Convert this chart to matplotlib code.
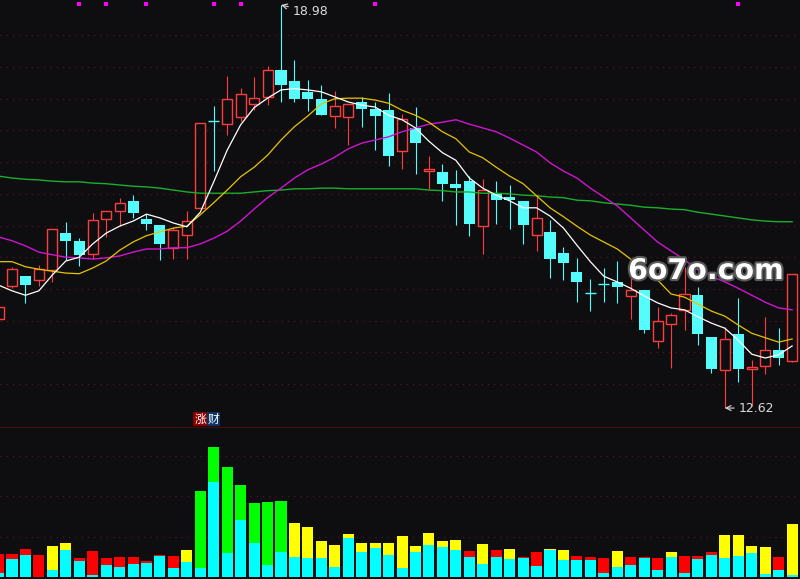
import numpy as np
import matplotlib.pyplot as plt
import matplotlib.patheffects as pe

# daily OHLC (price units)
opens = [14.03, 14.55, 14.70, 14.64, 14.80, 15.38, 15.26, 15.05, 15.60, 15.73,
         15.89, 15.60, 15.51, 15.15, 15.35, 15.78, 17.15, 17.10, 17.21, 17.42,
         17.53, 17.95, 17.78, 17.61, 17.50, 17.23, 17.21, 17.45, 17.34, 17.32,
         16.68, 17.04, 16.36, 16.35, 16.16, 16.20, 15.49, 16.00, 15.95, 15.89,
         15.35, 15.40, 15.07, 14.77, 14.44, 14.57, 14.61, 14.39, 14.48, 13.68,
         13.95, 14.17, 14.40, 13.74, 13.22, 13.79, 13.24, 13.28, 13.54, 13.36]
closes = [14.22, 14.81, 14.56, 14.81, 15.45, 15.26, 15.04, 15.59, 15.73, 15.86,
          15.70, 15.52, 15.21, 15.43, 15.57, 17.12, 17.14, 17.50, 17.58, 17.51,
          17.95, 17.72, 17.50, 17.50, 17.24, 17.39, 17.42, 17.34, 17.23, 16.60,
          17.18, 16.80, 16.39, 16.16, 16.09, 15.52, 16.06, 15.90, 15.90, 15.51,
          15.62, 14.97, 14.91, 14.61, 14.43, 14.56, 14.53, 14.48, 13.85, 13.99,
          14.09, 14.42, 13.79, 13.24, 13.71, 13.24, 13.27, 13.54, 13.41, 14.74]
highs = [14.22, 14.85, 14.70, 14.88, 15.45, 15.56, 15.30, 15.70, 15.73, 15.94,
         15.98, 15.68, 15.51, 15.48, 15.73, 17.12, 17.39, 17.86, 17.67, 17.84,
         18.02, 18.98, 18.11, 17.80, 17.72, 17.62, 17.42, 17.53, 17.45, 17.59,
         17.26, 17.37, 16.60, 16.47, 16.38, 16.28, 16.23, 16.20, 16.14, 15.89,
         15.98, 15.59, 15.16, 14.99, 14.66, 14.83, 14.94, 14.78, 14.48, 14.22,
         14.12, 14.85, 14.53, 13.74, 13.90, 14.36, 13.38, 14.06, 13.88, 14.74]
lows = [14.03, 14.51, 14.28, 14.55, 14.61, 14.96, 14.86, 14.97, 15.32, 15.49,
        15.62, 15.43, 14.96, 14.97, 14.97, 15.78, 16.36, 16.93, 17.15, 17.32,
        17.40, 17.45, 17.45, 17.31, 17.24, 17.04, 16.77, 17.06, 16.69, 16.44,
        16.39, 16.31, 16.08, 15.89, 15.51, 15.34, 15.05, 15.52, 15.45, 15.21,
        15.10, 14.67, 14.64, 14.29, 14.15, 14.29, 14.28, 14.03, 13.80, 13.57,
        13.25, 13.85, 13.62, 13.17, 12.62, 13.03, 12.65, 13.16, 13.30, 13.35]

# moving averages
ma5 = [14.56, 14.47, 14.40, 14.47, 14.72, 14.94, 15.00, 15.21, 15.38, 15.49,
       15.57, 15.68, 15.62, 15.54, 15.48, 15.71, 16.19, 16.69, 17.09, 17.36,
       17.51, 17.64, 17.66, 17.64, 17.61, 17.53, 17.45, 17.40, 17.37, 17.24,
       17.17, 17.04, 16.83, 16.65, 16.53, 16.25, 16.09, 15.98, 15.89, 15.78,
       15.78, 15.65, 15.46, 15.19, 14.93, 14.70, 14.61, 14.51, 14.39, 14.28,
       14.20, 14.17, 14.06, 13.96, 13.88, 13.69, 13.47, 13.41, 13.46, 13.60]
ma10 = [14.93, 14.93, 14.85, 14.81, 14.78, 14.75, 14.74, 14.83, 14.94, 15.11,
        15.24, 15.34, 15.40, 15.46, 15.49, 15.67, 15.86, 16.06, 16.27, 16.42,
        16.61, 16.85, 17.06, 17.23, 17.42, 17.50, 17.51, 17.51, 17.48, 17.43,
        17.32, 17.24, 17.13, 16.98, 16.87, 16.66, 16.57, 16.42, 16.28, 16.16,
        15.97, 15.78, 15.64, 15.49, 15.35, 15.24, 15.13, 14.97, 14.83, 14.64,
        14.42, 14.37, 14.26, 14.15, 14.07, 13.93, 13.80, 13.73, 13.66, 13.71]
ma20 = [15.32, 15.26, 15.18, 15.08, 15.04, 15.00, 14.99, 14.97, 14.99, 15.02,
        15.08, 15.13, 15.13, 15.15, 15.15, 15.21, 15.30, 15.41, 15.57, 15.76,
        15.94, 16.09, 16.25, 16.38, 16.47, 16.58, 16.71, 16.80, 16.85, 16.90,
        16.98, 17.04, 17.10, 17.13, 17.17, 17.10, 17.04, 16.98, 16.88, 16.77,
        16.66, 16.49, 16.36, 16.25, 16.09, 15.95, 15.81, 15.62, 15.43, 15.24,
        15.10, 14.96, 14.80, 14.70, 14.61, 14.51, 14.40, 14.29, 14.20, 14.17]
ma60 = [16.28, 16.25, 16.23, 16.22, 16.20, 16.19, 16.19, 16.17, 16.16, 16.14,
        16.12, 16.11, 16.09, 16.06, 16.03, 16.01, 16.01, 16.01, 16.01, 16.03,
        16.05, 16.06, 16.08, 16.08, 16.09, 16.09, 16.08, 16.08, 16.08, 16.08,
        16.08, 16.08, 16.06, 16.05, 16.03, 16.03, 16.01, 16.01, 16.00, 15.98,
        15.97, 15.95, 15.94, 15.90, 15.89, 15.86, 15.84, 15.82, 15.79, 15.78,
        15.76, 15.75, 15.71, 15.68, 15.65, 15.62, 15.59, 15.57, 15.56, 15.56]

# volume: total bar, cyan lower part, colour of the upper part
vol_total = [0.57, 0.57, 0.69, 0.54, 0.77, 0.84, 0.47, 0.64, 0.47, 0.49,
             0.49, 0.40, 0.54, 0.52, 0.67, 2.12, 3.21, 2.72, 2.27, 1.83,
             1.85, 1.88, 1.33, 1.23, 0.89, 0.79, 1.06, 0.84, 0.84, 0.84,
             1.01, 0.77, 1.09, 0.89, 0.91, 0.64, 0.81, 0.67, 0.69, 0.49,
             0.62, 0.69, 0.67, 0.52, 0.49, 0.47, 0.64, 0.49, 0.49, 0.47,
             0.62, 0.52, 0.52, 0.62, 1.04, 1.04, 0.77, 0.74, 0.49, 1.31]
vol_cyan = [0.10, 0.44, 0.54, 0.00, 0.17, 0.67, 0.40, 0.05, 0.30, 0.25,
            0.32, 0.35, 0.52, 0.22, 0.37, 0.22, 2.35, 0.59, 1.41, 0.84,
            0.30, 0.62, 0.49, 0.47, 0.47, 0.25, 0.96, 0.62, 0.72, 0.54,
            0.22, 0.62, 0.79, 0.74, 0.67, 0.49, 0.32, 0.49, 0.44, 0.47,
            0.27, 0.67, 0.42, 0.42, 0.42, 0.10, 0.25, 0.30, 0.47, 0.17,
            0.49, 0.10, 0.44, 0.54, 0.47, 0.52, 0.59, 0.07, 0.17, 0.05]
vol_top = list("rrrryyrrrrrrrry" "ggggggg" "yyyyyyyyyyyyy" "ryryrr"
               "yyrrr" "yrrr" "yrrr" "yyyy" "ry")

event_days = [6, 8, 11, 16, 18, 28, 55]
price_grid = [13.0, 13.5, 14.0, 14.5, 15.0, 15.5, 16.0, 16.5, 17.0, 17.5, 18.0, 18.5]
vol_grid = [1, 2, 3]

BG = "#0e0e11"
UP = "#ff3c3c"
DOWN = "#54fcfc"
GRID = "#6a1616"
top_colors = {"r": "#ff0000", "y": "#ffff00", "g": "#00ff00"}

W, H = 800, 579
split = 427  # pixel row of the panel divider
fig = plt.figure(figsize=(W / 100, H / 100), dpi=100, facecolor=BG)
ax = fig.add_axes([0, (H - split) / H, 1, split / H])
axv = fig.add_axes([0, 0, 1, (H - split) / H])
for a in (ax, axv):
    a.set_facecolor(BG)
    a.set_xticks([])
    a.set_yticks([])
    for s in a.spines.values():
        s.set_visible(False)

x = np.arange(len(closes))
o = np.array(opens)
c = np.array(closes)
h = np.array(highs)
l = np.array(lows)
xlim = (0.108, 59.587)
bw = 0.82

ax.hlines(price_grid, *xlim, colors=GRID, lw=0.75, linestyles=(0, (1, 5)), zorder=1)

doji = np.abs(c - o) < 0.015
up = (c > o) & ~doji
dn = (c <= o) & ~doji

# wicks
ax.vlines(x[up], c[up], h[up], color=UP, lw=0.8, zorder=2)
ax.vlines(x[up], l[up], o[up], color=UP, lw=0.8, zorder=2)
ax.vlines(x[~up], l[~up], h[~up], color=DOWN, lw=0.8, zorder=2)
# bodies
ax.bar(x[up], c[up] - o[up], bottom=o[up], width=bw - 0.07,
       facecolor=BG, edgecolor=UP, lw=1.0, zorder=3)
ax.bar(x[dn], o[dn] - c[dn], bottom=c[dn], width=bw,
       color=DOWN, lw=0, zorder=3)
ax.hlines(o[doji], x[doji] - bw / 2, x[doji] + bw / 2, color=DOWN, lw=1.0, zorder=3)

ax.plot(x, ma60, color="#18b02a", lw=1.0, zorder=4)
ax.plot(x, ma20, color="#d014d0", lw=1.0, zorder=4)
ax.plot(x, ma10, color="#e6c400", lw=0.9, zorder=4)
ax.plot(x, ma5, color="#ffffff", lw=0.9, zorder=5)

ax.scatter(event_days, [0.9895] * len(event_days), marker="s", s=9,
           color="#ff00ff", lw=0, transform=ax.get_xaxis_transform(), zorder=6)

ax.annotate("18.98", xy=(21, 18.98), xytext=(21.85, 18.87), color="#dcdcdc",
            fontsize=9, ha="left", va="center",
            arrowprops=dict(arrowstyle="->", color="#dcdcdc", lw=0.8,
                            shrinkA=1, shrinkB=0), zorder=7)
ax.annotate("12.62", xy=(54, 12.62), xytext=(55.0, 12.62), color="#dcdcdc",
            fontsize=9, ha="left", va="center",
            arrowprops=dict(arrowstyle="->", color="#dcdcdc", lw=0.8,
                            shrinkA=1, shrinkB=0), zorder=7)

cjk = ["Noto Sans CJK SC", "DejaVu Sans"]
ax.text(14.98, 12.447, "涨", family=cjk, fontsize=8.5, color="white",
        ha="center", va="center",
        bbox=dict(facecolor="#8a0000", edgecolor="none", pad=0.6), zorder=7)
ax.text(15.98, 12.447, "财", family=cjk, fontsize=8.5, color="white",
        ha="center", va="center",
        bbox=dict(facecolor="#0c3566", edgecolor="none", pad=0.6), zorder=7)

ax.text(52.6, 14.656, "6o7o.com", fontsize=20.5, weight="bold", color="white",
        ha="center", va="baseline", zorder=8,
        path_effects=[pe.withStroke(linewidth=3, foreground="#5a5a5a")])

ax.set_xlim(*xlim)
ax.set_ylim(12.321, 19.059)

# volume panel
vt = np.array(vol_total)
vc = np.array(vol_cyan)
axv.hlines(vol_grid, *xlim, colors=GRID, lw=0.75, linestyles=(0, (1, 5)), zorder=1)
axv.bar(x, vc, width=bw, color="#00ffff", lw=0, zorder=3)
axv.bar(x, vt - vc, bottom=vc, width=bw,
        color=[top_colors[k] for k in vol_top], lw=0, zorder=3)
axv.axhline(3.704, color="#5c0e0e", lw=1.2, zorder=4)
axv.set_xlim(*xlim)
axv.set_ylim(-0.049, 3.704)

fig.savefig("out.png", dpi=100, facecolor=BG)
